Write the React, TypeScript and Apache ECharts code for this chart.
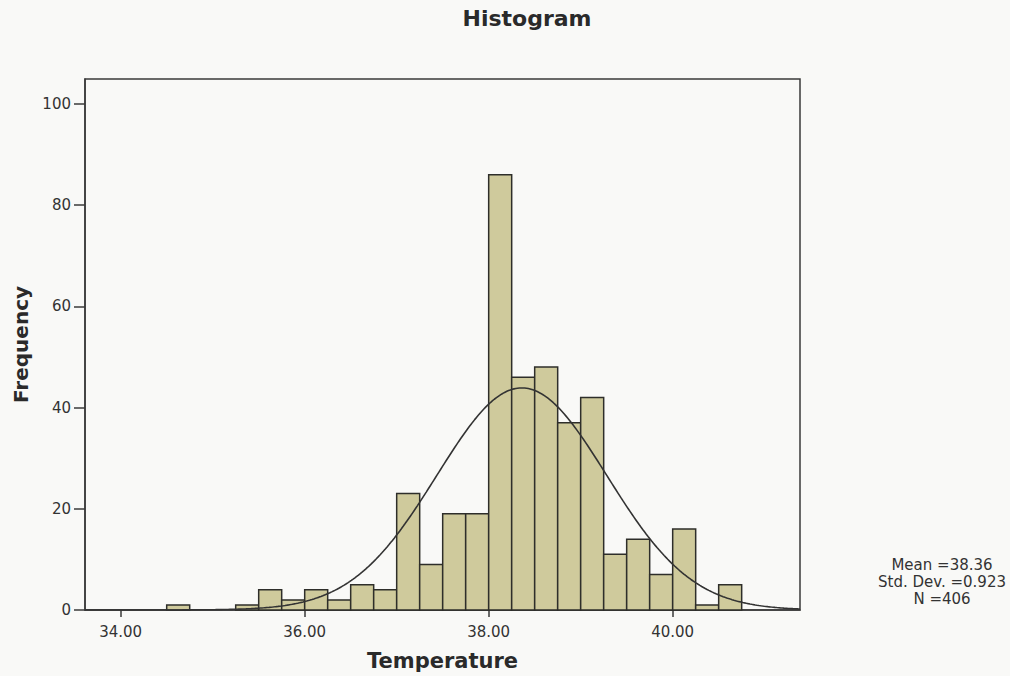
import React, { useEffect, useRef } from "react";
import * as echarts from "echarts";

// Histogram bins (lower edge) and counts, bin width 0.25
const binStarts = [34.5, 35.25, 35.5, 35.75, 36.0, 36.25, 36.5, 36.75, 37.0, 37.25, 37.5, 37.75, 38.0, 38.25, 38.5, 38.75, 39.0, 39.25, 39.5, 39.75, 40.0, 40.25, 40.5];
const counts = [1, 1, 4, 2, 4, 2, 5, 4, 23, 9, 19, 19, 86, 46, 48, 37, 42, 11, 14, 7, 16, 1, 5];
const binWidth = 0.25;

const xTicks = [34, 36, 38, 40];
const yTicks = [0, 20, 40, 60, 80, 100];

const mean = 38.36;
const stdDev = 0.923;
const n = 406;

const xMin = 33.612;
const xMax = 41.384;
const yMax = 104.9;

const FONT = "'DejaVu Sans', 'Liberation Sans', Arial, sans-serif";

export default function App() {
  const ref = useRef<HTMLDivElement>(null);

  useEffect(() => {
    if (!ref.current) return;
    const chart = echarts.init(ref.current, null, { renderer: "svg" });

    const barData = binStarts.map((s, i) => [s, s + binWidth, counts[i]]);

    // Fitted normal curve defined by the chart's stated Mean, Std. Dev. and N
    const curve: number[][] = [];
    const steps = 400;
    for (let i = 0; i <= steps; i++) {
      const x = xMin + ((xMax - xMin) * i) / steps;
      const z = (x - mean) / stdDev;
      const y = (n * binWidth * Math.exp(-0.5 * z * z)) / (stdDev * Math.sqrt(2 * Math.PI));
      curve.push([x, y]);
    }

    chart.setOption({
      animation: false,
      backgroundColor: "#f9f9f7",
      textStyle: { fontFamily: FONT },
      grid: {
        left: 85,
        right: 210,
        top: 79,
        bottom: 64,
        show: true,
        borderColor: "#3a3a3a",
        borderWidth: 1.5,
        backgroundColor: "transparent",
      },
      xAxis: {
        type: "value",
        min: xMin,
        max: xMax,
        name: "Temperature",
        nameLocation: "middle",
        nameGap: 40,
        nameTextStyle: { fontSize: 21, fontWeight: "bold", color: "#2a2a2a", fontFamily: FONT },
        axisLine: { show: true, lineStyle: { color: "#3a3a3a", width: 1.5 } },
        axisTick: { show: true, customValues: xTicks, length: 7, lineStyle: { color: "#3a3a3a", width: 1.5 } },
        axisLabel: {
          customValues: xTicks,
          formatter: (v: number) => v.toFixed(2),
          fontSize: 15,
          color: "#333",
          margin: 14,
          fontFamily: FONT,
        },
        splitLine: { show: false },
      },
      yAxis: {
        type: "value",
        min: 0,
        max: yMax,
        name: "Frequency",
        nameLocation: "middle",
        nameGap: 52,
        nameTextStyle: { fontSize: 20, fontWeight: "bold", color: "#2a2a2a", fontFamily: FONT },
        axisLine: { show: true, lineStyle: { color: "#3a3a3a", width: 1.5 } },
        axisTick: { show: true, customValues: yTicks, length: 11, lineStyle: { color: "#3a3a3a", width: 1.5 } },
        axisLabel: {
          customValues: yTicks,
          fontSize: 15,
          color: "#333",
          margin: 14,
          fontFamily: FONT,
        },
        splitLine: { show: false },
      },
      series: [
        {
          type: "custom",
          data: barData,
          encode: { x: [0, 1], y: 2 },
          renderItem: (params: any, api: any) => {
            const p0 = api.coord([api.value(0), api.value(2)]);
            const p1 = api.coord([api.value(1), 0]);
            return {
              type: "rect",
              shape: { x: p0[0], y: p0[1], width: p1[0] - p0[0], height: p1[1] - p0[1] },
              style: { fill: "#cfca9c", stroke: "#2e2e2a", lineWidth: 1.5 },
            };
          },
          z: 2,
        },
        {
          type: "line",
          data: curve,
          showSymbol: false,
          symbol: "none",
          lineStyle: { color: "#333333", width: 1.6 },
          z: 3,
        },
      ],
      graphic: [
        {
          type: "text",
          x: 527,
          y: 18,
          style: {
            text: "Histogram",
            font: `bold 22px ${FONT}`,
            fill: "#2a2a2a",
            textAlign: "center",
            textVerticalAlign: "middle",
          },
        },
        {
          type: "text",
          x: 942,
          y: 556,
          style: {
            text: `Mean =${mean.toFixed(2)}\nStd. Dev. =${stdDev.toFixed(3)}\nN =${n}`,
            font: `15px ${FONT}`,
            lineHeight: 17,
            fill: "#333",
            textAlign: "center",
            textVerticalAlign: "top",
          },
        },
      ],
    });

    return () => chart.dispose();
  }, []);

  return (
    <div
      ref={ref}
      style={{ position: "absolute", left: 0, top: 0, width: 1010, height: 676 }}
    />
  );
}
